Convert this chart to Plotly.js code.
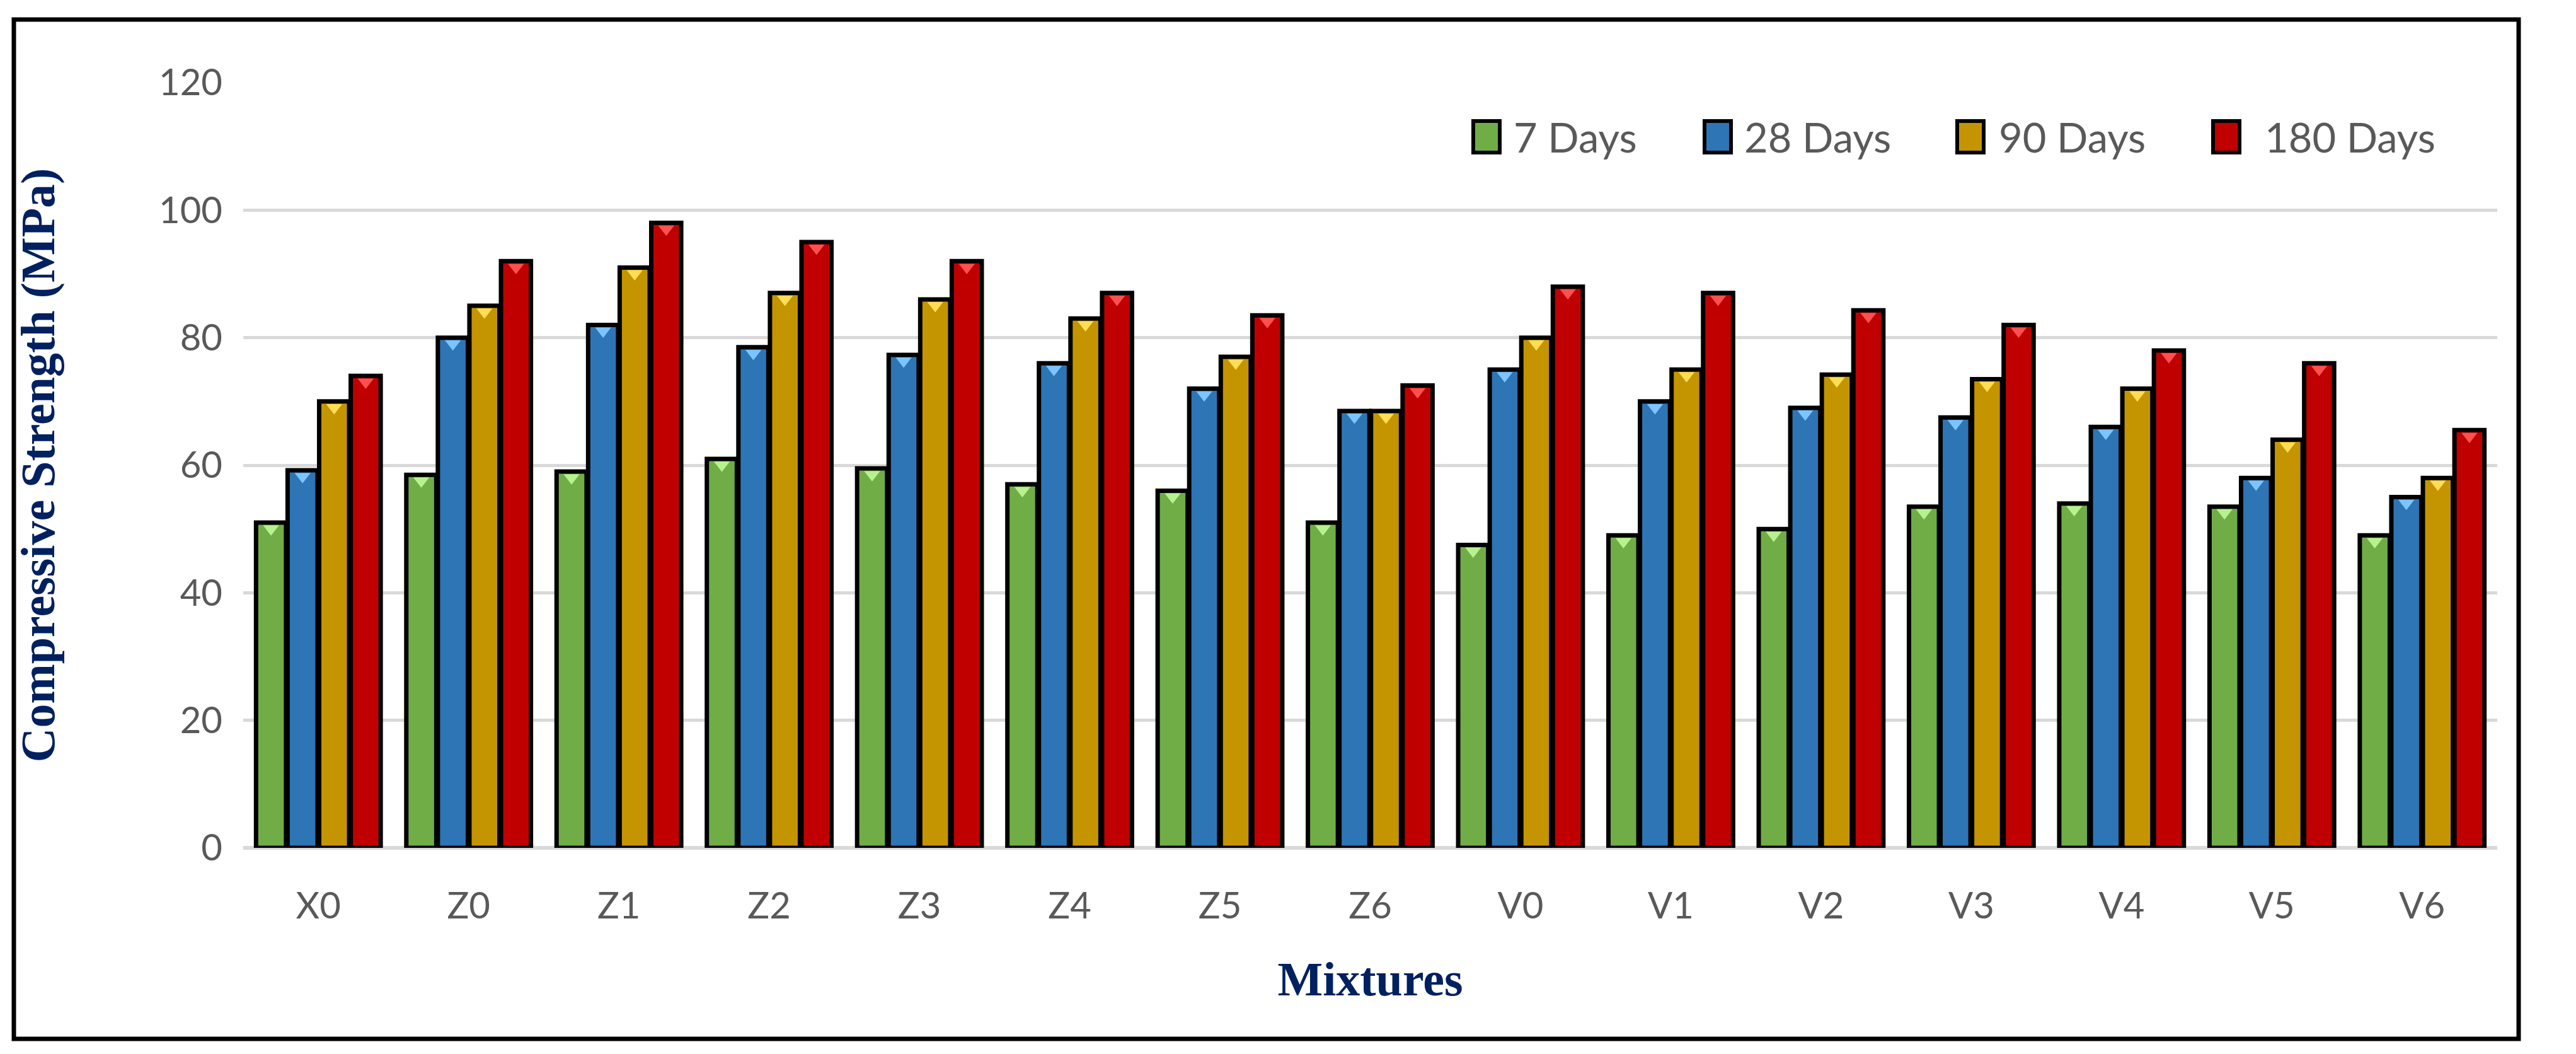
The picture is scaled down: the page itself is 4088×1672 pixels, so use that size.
<!DOCTYPE html>
<html>
<head>
<meta charset="utf-8">
<script src="https://cdn.plot.ly/plotly-3.0.1.min.js"></script>
<style>html,body{margin:0;padding:0;background:#fff;}#chart{width:4088px;height:1672px;}</style>
</head>
<body>
<div id="chart"></div>
<script>
// ---- data ----
const categories = ['X0','Z0','Z1','Z2','Z3','Z4','Z5','Z6','V0','V1','V2','V3','V4','V5','V6'];
const seriesNames = ['7 Days','28 Days','90 Days','180 Days'];
const days7   = [51, 58.5, 59, 61, 59.5, 57, 56, 51, 47.5, 49, 50, 53.5, 54, 53.5, 49];
const days28  = [59.2, 80, 82, 78.5, 77.3, 76, 72, 68.5, 75, 70, 69, 67.5, 66, 58, 55];
const days90  = [70, 85, 91, 87, 86, 83, 77, 68.5, 80, 75, 74.2, 73.5, 72, 64, 58];
const days180 = [74, 92, 98, 95, 92, 87, 83.5, 72.5, 88, 87, 84.3, 82, 78, 76, 65.5];
const yTicks = [0, 20, 40, 60, 80, 100, 120];

// ---- style ----
const W = 4088, H = 1672;
const M = {l: 386, r: 125, t: 131, b: 327};
const PW = W - M.l - M.r, PH = H - M.t - M.b;
const px2x = p => (p - M.l) / PW;
const px2y = p => (H - M.b - p) / PH;

const fills = ['#70AD47', '#2E75B6', '#C49500', '#C00000'];
const highlights = ['#B8F290', '#7CC4FF', '#FFDD55', '#FF5050'];
const allSeries = [days7, days28, days90, days180];
const tickFont = {family: 'Lato, "Open Sans", sans-serif', size: 58, color: '#595959'};
const legendFont = {family: 'Lato, "Open Sans", sans-serif', size: 65, color: '#595959'};
const titleFont = {family: '"Liberation Serif", "Times New Roman", serif', size: 76, color: '#002060', weight: 'bold'};

const traces = [];
allSeries.forEach((vals, i) => {
  traces.push({
    type: 'bar', name: seriesNames[i], x: categories, y: vals,
    marker: {color: fills[i], line: {color: '#000000', width: 7}},
    showlegend: false, hoverinfo: 'x+y+name'
  });
});
// bevel highlight triangles at the bar tops
allSeries.forEach((vals, i) => {
  traces.push({
    type: 'scatter', mode: 'markers', x: categories, y: vals.map(v => v - 0.95),
    marker: {symbol: 'triangle-down', size: 22, color: highlights[i], line: {width: 0}},
    showlegend: false, hoverinfo: 'skip', cliponaxis: false
  });
});

// custom legend (swatches + labels)
const legendSwatchLeft = [2338, 2705, 3106, 3512];
const legendTextLeft   = [2400, 2766, 3170, 3592];
const legendYc = 217;
const shapes = [];
const annotations = [];
seriesNames.forEach((n, i) => {
  shapes.push({
    type: 'rect', xref: 'paper', yref: 'paper',
    x0: px2x(legendSwatchLeft[i]), x1: px2x(legendSwatchLeft[i] + 42),
    y0: px2y(legendYc + 25), y1: px2y(legendYc - 25),
    fillcolor: fills[i], line: {color: '#000000', width: 6}
  });
  annotations.push({
    xref: 'paper', yref: 'paper', x: px2x(legendTextLeft[i]), y: px2y(legendYc),
    xanchor: 'left', yanchor: 'middle', showarrow: false, text: n, font: legendFont
  });
});
// outer frame
shapes.push({
  type: 'rect', xref: 'paper', yref: 'paper',
  x0: px2x(22), x1: px2x(3997), y0: px2y(1648), y1: px2y(31),
  line: {color: '#000000', width: 7}, fillcolor: 'rgba(0,0,0,0)', layer: 'above'
});

const layout = {
  width: W, height: H,
  margin: M,
  paper_bgcolor: '#ffffff', plot_bgcolor: '#ffffff',
  barmode: 'group', bargap: 0.16, bargroupgap: 0.05,
  scattermode: 'group', scattergap: 0.16,
  showlegend: false,
  xaxis: {
    type: 'category', tickfont: tickFont, showgrid: false, showline: false,
    ticks: '', ticklabelstandoff: 53,
    title: {text: 'Mixtures', font: titleFont, standoff: 57},
    fixedrange: true
  },
  yaxis: {
    range: [0, 120], tickvals: yTicks, ticktext: yTicks.map(String),
    tickfont: tickFont, showgrid: true, gridcolor: '#D9D9D9', gridwidth: 5,
    zeroline: true, zerolinecolor: '#D9D9D9', zerolinewidth: 6,
    showline: false, ticks: '', ticklabelstandoff: 32,
    title: {text: 'Compressive Strength (MPa)', font: titleFont, standoff: 140},
    fixedrange: true
  },
  shapes: shapes,
  annotations: annotations
};

Plotly.newPlot('chart', traces, layout, {displayModeBar: false, staticPlot: true});
</script>
</body>
</html>
